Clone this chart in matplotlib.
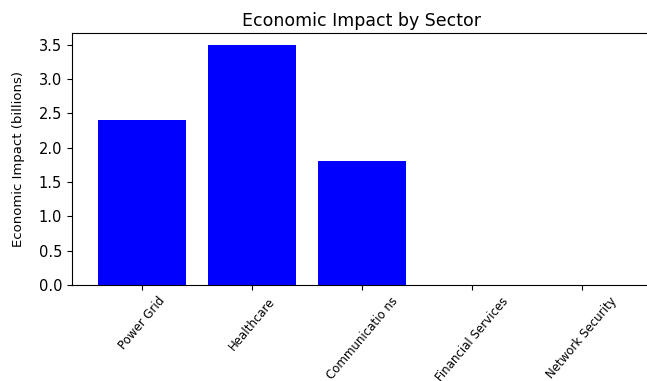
import matplotlib.pyplot as plt

sectors = ['Power Grid', 'Healthcare', 'Communicatio ns', 'Financial Services', 'Network Security']
impact = [2.4, 3.5, 1.8, 0, 0]

fig = plt.figure(figsize=(6.47, 3.81), dpi=100)
ax = fig.add_axes([0.111, 0.252, 0.897, 0.662])

ax.bar(sectors, impact, color='blue', width=0.8)

ax.set_title('Economic Impact by Sector', fontsize=12.5, pad=5)
ax.set_xlabel('Sector', fontsize=10, labelpad=0)
ax.set_ylabel('Economic Impact (billions)', fontsize=9.5, labelpad=10)
ax.tick_params(axis='y', labelsize=10.5)
for lbl in ax.get_xticklabels():
    lbl.set_rotation(50)
    lbl.set_fontsize(8.5)

fig.savefig('out.png', dpi=100)
